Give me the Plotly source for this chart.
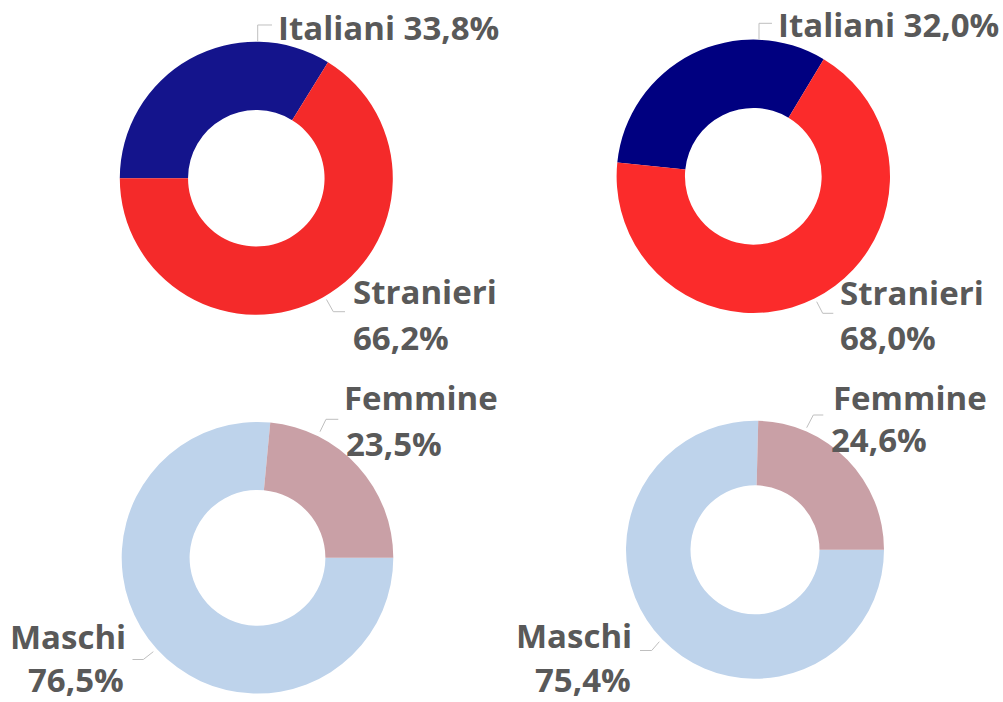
import plotly.graph_objects as go

# --- data -------------------------------------------------------------
origine_labels = ["Italiani", "Stranieri"]
origine_sx = [33.8, 66.2]
origine_dx = [32.0, 68.0]

genere_labels = ["Maschi", "Femmine"]
genere_sx = [76.5, 23.5]
genere_dx = [75.4, 24.6]

# --- canvas -----------------------------------------------------------
W, H = 1003, 702


def px(x):
    return x / W


def py(y):
    return 1 - y / H


def domain(cx, cy, r):
    return dict(x=[px(cx - r), px(cx + r)], y=[py(cy + r), py(cy - r)])


def fmt(label, v):
    return label, f"{v:.1f}%".replace(".", ",")


fig = go.Figure()

# donut specs: values, labels, colours, centre/radius (px), rotation
donuts = [
    (origine_sx, origine_labels, ["#14148C", "#F42A2A"], (256.3, 178.3, 136.5), 270),
    (origine_dx, origine_labels, ["#000080", "#FB2B2B"], (753.3, 176.3, 136.7), 275.8),
    (genere_sx, genere_labels, ["#BED3EB", "#C9A0A6"], (257.5, 557.8, 135.8), 90),
    (genere_dx, genere_labels, ["#BED3EB", "#C9A0A6"], (755.0, 549.8, 129.0), 90),
]

for vals, labs, cols, (cx, cy, r), rot in donuts:
    fig.add_trace(go.Pie(
        values=vals, labels=labs, hole=0.5, sort=False,
        direction="clockwise", rotation=rot,
        marker=dict(colors=cols, line=dict(width=0)),
        textinfo="none", hoverinfo="label+percent",
        domain=domain(cx, cy, r), showlegend=False,
    ))

# --- data labels ------------------------------------------------------
FONT = dict(family="Open Sans", size=33, color="#595959", weight="bold")
annotations = []


def add_text(text, x, y, anchor):
    annotations.append(dict(
        text=text, x=px(x), y=py(y), xref="paper", yref="paper",
        xanchor=anchor, yanchor="middle", showarrow=False, font=FONT,
    ))


# top row: single-line label above, two-line label below right
name, pct = fmt(origine_labels[0], origine_sx[0])
add_text(f"{name} {pct}", 275.5, 27.3, "left")
name, pct = fmt(origine_labels[1], origine_sx[1])
add_text(name, 350.5, 291.3, "left")
add_text(pct, 350.5, 338.0, "left")

name, pct = fmt(origine_labels[0], origine_dx[0])
add_text(f"{name} {pct}", 775.5, 24.7, "left")
name, pct = fmt(origine_labels[1], origine_dx[1])
add_text(name, 838.0, 292.0, "left")
add_text(pct, 838.0, 338.0, "left")

# bottom row
name, pct = fmt(genere_labels[1], genere_sx[1])
add_text(name, 342.0, 398.0, "left")
add_text(pct, 343.5, 443.0, "left")
name, pct = fmt(genere_labels[0], genere_sx[0])
add_text(name, 127.5, 636.0, "right")
add_text(pct, 126.0, 679.5, "right")

name, pct = fmt(genere_labels[1], genere_dx[1])
add_text(name, 830.5, 397.3, "left")
add_text(pct, 829.0, 439.7, "left")
name, pct = fmt(genere_labels[0], genere_dx[0])
add_text(name, 634.0, 635.0, "right")
add_text(pct, 632.5, 679.0, "right")

# --- leader lines -----------------------------------------------------
leaders = [
    [(257.7, 41.5), (257.7, 25.0), (272.0, 25.0)],
    [(759.0, 39.5), (759.0, 23.3), (772.0, 23.3)],
    [(326.5, 299.5), (333.3, 311.7), (345.0, 311.7)],
    [(816.7, 301.7), (822.7, 313.3), (833.3, 313.3)],
    [(320.0, 431.7), (326.0, 419.3), (338.3, 419.3)],
    [(806.7, 427.7), (813.3, 415.0), (823.3, 415.0)],
    [(153.3, 651.7), (143.3, 659.5), (132.5, 659.5)],
    [(659.3, 641.7), (651.7, 650.5), (640.0, 650.5)],
]
shapes = []
for pts in leaders:
    path = "M " + " L ".join(f"{px(x):.5f},{py(y):.5f}" for x, y in pts)
    shapes.append(dict(type="path", path=path, xref="paper", yref="paper",
                       line=dict(color="#BFBFBF", width=1), layer="above"))

fig.update_layout(
    width=W, height=H,
    margin=dict(l=0, r=0, t=0, b=0),
    paper_bgcolor="white", plot_bgcolor="white",
    annotations=annotations, shapes=shapes,
)

fig.write_html("out.html")
